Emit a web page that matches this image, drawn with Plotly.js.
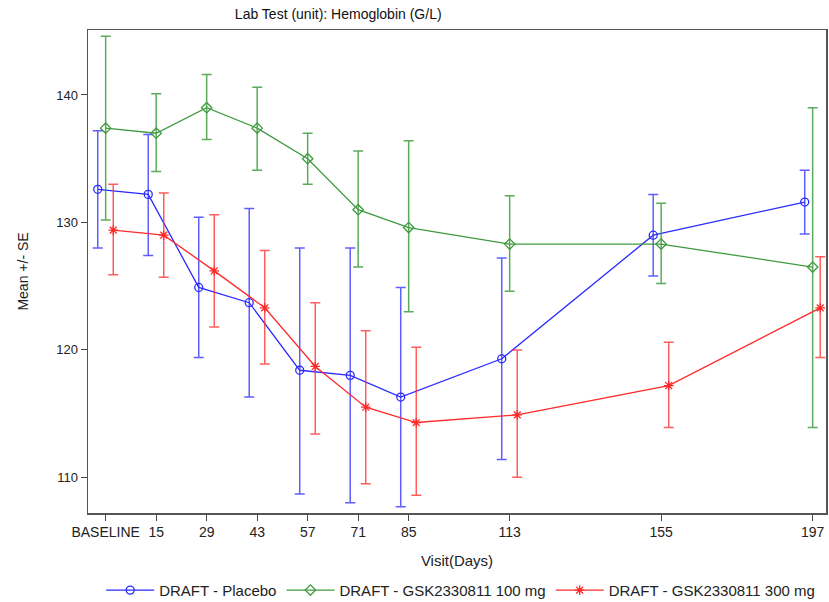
<!DOCTYPE html>
<html>
<head>
<meta charset="utf-8">
<script src="https://cdn.plot.ly/plotly-3.0.1.min.js"></script>
<style>html,body{margin:0;padding:0;background:#fff;}#chart{width:829px;height:602px;}</style>
</head>
<body>
<div id="chart"></div>
<script>
// Visit days (BASELINE = day 1)
const visitDays = [1, 15, 29, 43, 57, 71, 85, 113, 155, 197];
const tickLabels = ["BASELINE", "15", "29", "43", "57", "71", "85", "113", "155", "197"];

// Placebo
const placeboMean  = [132.6, 132.2, 124.9, 123.7, 118.4, 118.0, 116.3, 119.3, 129.0, 131.6];
const placeboUpper = [137.2, 136.9, 130.4, 131.1, 128.0, 128.0, 124.9, 127.2, 132.2, 134.1];
const placeboLower = [128.0, 127.4, 119.4, 116.3, 108.7, 108.0, 107.7, 111.4, 125.8, 129.1];

// GSK2330811 100 mg
const g100Mean  = [137.4, 137.0, 139.0, 137.4, 135.0, 131.0, 129.6, 128.3, 128.3, 126.5];
const g100Upper = [144.6, 140.1, 141.6, 140.6, 137.0, 135.6, 136.4, 132.1, 131.5, 139.0];
const g100Lower = [130.2, 134.0, 136.5, 134.1, 133.0, 126.5, 123.0, 124.6, 125.2, 113.9];

// GSK2330811 300 mg
const g300Mean  = [129.4, 129.0, 126.2, 123.3, 118.7, 115.5, 114.3, 114.9, 117.2, 123.3];
const g300Upper = [133.0, 132.3, 130.6, 127.8, 123.7, 121.5, 120.2, 120.0, 120.6, 127.3];
const g300Lower = [125.9, 125.7, 121.8, 118.9, 113.4, 109.5, 108.6, 110.0, 113.9, 119.4];

const seriesNames = ["DRAFT - Placebo", "DRAFT - GSK2330811 100 mg", "DRAFT - GSK2330811 300 mg"];

function makeTrace(name, mean, upper, lower, offset, color, errColor, symbol, msize) {
  return {
    type: "scatter",
    mode: "lines+markers",
    name: name,
    x: visitDays.map(d => d + offset),
    y: mean,
    line: {color: color, width: 1.3},
    marker: {symbol: symbol, size: msize, color: color, line: {color: color, width: 1.3}},
    error_y: {
      type: "data", symmetric: false,
      array: upper.map((u, i) => u - mean[i]),
      arrayminus: lower.map((l, i) => mean[i] - l),
      color: errColor, thickness: 1.5, width: 5
    }
  };
}

const traces = [
  makeTrace(seriesNames[0], placeboMean, placeboUpper, placeboLower, -2.2, "#2a2aff", "rgba(40,40,255,0.75)", "circle-open", 8),
  makeTrace(seriesNames[1], g100Mean, g100Upper, g100Lower, 0, "#3f9a3f", "rgba(50,150,50,0.8)", "diamond-open", 8),
  makeTrace(seriesNames[2], g300Mean, g300Upper, g300Lower, 2.1, "#ff2a2a", "rgba(255,40,40,0.75)", "asterisk-open", 8)
];

const font = "Liberation Sans Narrow, Liberation Sans, Arial, sans-serif";
const sans = "Liberation Sans, Arial, sans-serif";
const layout = {
  width: 829, height: 602,
  margin: {l: 88, r: 3, t: 30, b: 89, autoexpand: false},
  paper_bgcolor: "#fff", plot_bgcolor: "#fff",
  font: {family: font, size: 13, color: "#222"},
  title: {text: "Lab Test (unit): Hemoglobin (G/L)", x: 0.408, xanchor: "center", y: 0.985, yanchor: "top",
          font: {family: font, size: 14, color: "#111"}},
  showlegend: true,
  legend: {orientation: "h", x: 0.505, xanchor: "center", y: -0.126, yanchor: "top",
           font: {family: sans, size: 15, color: "#222"}, itemwidth: 48, tracegroupgap: 0},
  xaxis: {
    automargin: false,
    range: [-3.9, 200.7], tickmode: "array", tickvals: visitDays, ticktext: tickLabels,
    ticks: "outside", ticklen: 6, tickcolor: "#444", showgrid: false, zeroline: false,
    showline: true, linecolor: "#555", linewidth: 1.5, mirror: true,
    tickfont: {size: 14},
    title: {text: "Visit(Days)", font: {size: 15}, standoff: 16}
  },
  yaxis: {
    automargin: false,
    range: [107.2, 145.1], tickmode: "array", tickvals: [110, 120, 130, 140],
    ticks: "outside", ticklen: 6, tickcolor: "#444", showgrid: false, zeroline: false,
    showline: true, linecolor: "#555", linewidth: 1.5, mirror: true,
    tickfont: {family: sans, size: 13},
    title: {text: "Mean +/- SE", font: {family: sans, size: 14}, standoff: 24}
  }
};

Plotly.newPlot("chart", traces, layout, {displayModeBar: false, staticPlot: true});
</script>
</body>
</html>
